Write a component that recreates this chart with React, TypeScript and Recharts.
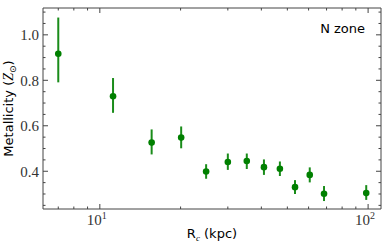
import React from 'react';
import { ScatterChart, Scatter, XAxis, YAxis, ErrorBar, Label } from 'recharts';

const radius = [7.0, 11.2, 15.6, 20.1, 24.9, 30.0, 35.3, 40.9, 46.9, 53.4, 60.6, 68.5, 98.4];
const metallicity = [0.917, 0.73, 0.526, 0.548, 0.399, 0.441, 0.445, 0.418, 0.411, 0.33, 0.384, 0.301, 0.304];
const errLow = [0.126, 0.073, 0.052, 0.047, 0.032, 0.035, 0.035, 0.034, 0.032, 0.03, 0.033, 0.032, 0.03];
const errHigh = [0.159, 0.08, 0.058, 0.049, 0.032, 0.037, 0.033, 0.034, 0.032, 0.031, 0.033, 0.034, 0.035];

const xMajorTicks = [10, 100];
const xTicks = [7, 8, 9, 10, 20, 30, 40, 50, 60, 70, 80, 90, 100];
const yMajorTicks = [0.4, 0.6, 0.8, 1.0];
const yTicks = [0.25, 0.3, 0.35, 0.4, 0.45, 0.5, 0.55, 0.6, 0.65, 0.7, 0.75, 0.8, 0.85, 0.9, 0.95, 1.0, 1.05, 1.1];
const xDomain = [6.14, 111.7];
const yDomain = [0.234, 1.118];
const zoneLabel = 'N zone';

const data = radius.map((r, i) => ({ r, z: metallicity[i], err: [errLow[i], errHigh[i]] }));

const AXIS = '#444';
const TICK_FONT = '"Liberation Serif", serif';
const SANS = '"DejaVu Sans", sans-serif';
const GREEN = '#008000';

const isMajor = (list: number[], v: number) => list.some((m) => Math.abs(m - v) < 1e-9);

const BottomTick = (props: any) => {
  const { x, y, payload } = props;
  const major = isMajor(xMajorTicks, payload.value);
  const len = major ? 5 : 2.5;
  return (
    <g>
      <line x1={x} x2={x} y1={y} y2={y - len} stroke={AXIS} strokeWidth={1} />
      {major && (
        <text x={x - 3} y={y + 16} textAnchor="middle" fontFamily={TICK_FONT} fontSize={15} fill="#333">
          10
          <tspan dy={-6} fontSize={10}>{Math.round(Math.log10(payload.value))}</tspan>
        </text>
      )}
    </g>
  );
};

const TopTick = (props: any) => {
  const { x, y, payload } = props;
  const major = isMajor(xMajorTicks, payload.value);
  const len = major ? 5 : 2.5;
  return <line x1={x} x2={x} y1={y} y2={y + len} stroke={AXIS} strokeWidth={1} />;
};

const LeftTick = (props: any) => {
  const { x, y, payload } = props;
  const major = isMajor(yMajorTicks, payload.value);
  const len = major ? 5 : 2.5;
  return (
    <g>
      <line x1={x} x2={x + len} y1={y} y2={y} stroke={AXIS} strokeWidth={1} />
      {major && (
        <text x={x - 4} y={y} dy="0.35em" textAnchor="end" fontFamily={TICK_FONT} fontSize={15} fill="#333">
          {payload.value.toFixed(1)}
        </text>
      )}
    </g>
  );
};

const RightTick = (props: any) => {
  const { x, y, payload } = props;
  const major = isMajor(yMajorTicks, payload.value);
  const len = major ? 5 : 2.5;
  return <line x1={x} x2={x - len} y1={y} y2={y} stroke={AXIS} strokeWidth={1} />;
};

const XTitle = (props: any) => {
  const vb = props.viewBox;
  return (
    <text x={vb.x + vb.width / 2} y={vb.y + 29} textAnchor="middle" fontFamily={SANS} fontSize={13} fill="#000">
      R<tspan dy={3} fontSize={9} fontFamily={TICK_FONT} fontStyle="italic">c</tspan>
      <tspan dy={-3}> (kpc)</tspan>
    </text>
  );
};

const YTitle = (props: any) => {
  const vb = props.viewBox;
  const cx = vb.x + 13;
  const cy = vb.y + vb.height / 2;
  return (
    <text x={cx} y={cy} textAnchor="middle" transform={`rotate(-90 ${cx} ${cy})`} fontFamily={SANS} fontSize={13} fill="#000">
      Metallicity (<tspan fontFamily={TICK_FONT} fontStyle="italic" fontSize={14}>Z</tspan>
      <tspan dy={3} fontSize={9}>⊙</tspan>
      <tspan dy={-3}>)</tspan>
    </text>
  );
};

const ZoneTitle = (props: any) => {
  const vb = props.viewBox;
  return (
    <text x={vb.x + vb.width - 16} y={vb.y + 26} textAnchor="end" fontFamily={SANS} fontSize={13} fill="#000">
      {zoneLabel}
    </text>
  );
};

const Dot = (props: any) => <circle cx={props.cx} cy={props.cy} r={3.3} fill={GREEN} />;
const NoDot = () => <g />;

export default function App() {
  return (
    <div style={{ position: 'absolute', left: 0, top: 0 }}>
      <ScatterChart width={390} height={244} margin={{ top: 7, right: 8, left: 0, bottom: 0 }}>
        <XAxis
          xAxisId="0"
          dataKey="r"
          type="number"
          scale="log"
          domain={xDomain}
          allowDataOverflow
          ticks={xTicks}
          interval={0}
          tickSize={0}
          tickMargin={0}
          tick={<BottomTick />}
          height={35}
          stroke={AXIS}
        >
          <Label content={<XTitle />} />
        </XAxis>
        <XAxis
          xAxisId="top"
          dataKey="r"
          orientation="top"
          type="number"
          scale="log"
          domain={xDomain}
          allowDataOverflow
          ticks={xTicks}
          interval={0}
          tickSize={0}
          tickMargin={0}
          tick={<TopTick />}
          height={1}
          stroke={AXIS}
        >
          <Label content={<ZoneTitle />} />
        </XAxis>
        <YAxis
          yAxisId="0"
          dataKey="z"
          type="number"
          domain={yDomain}
          allowDataOverflow
          ticks={yTicks}
          interval={0}
          tickSize={0}
          tickMargin={0}
          tick={<LeftTick />}
          width={43}
          stroke={AXIS}
        >
          <Label content={<YTitle />} />
        </YAxis>
        <YAxis
          yAxisId="right"
          dataKey="z"
          orientation="right"
          type="number"
          domain={yDomain}
          allowDataOverflow
          ticks={yTicks}
          interval={0}
          tickSize={0}
          tickMargin={0}
          tick={<RightTick />}
          width={1}
          stroke={AXIS}
        />
        <Scatter xAxisId="top" yAxisId="right" data={data} shape={<NoDot />} legendType="none" isAnimationActive={false} />
        <Scatter xAxisId="0" yAxisId="0" data={data} shape={<Dot />} isAnimationActive={false}>
          <ErrorBar dataKey="err" direction="y" width={0} stroke="#1a8c1a" strokeWidth={2} isAnimationActive={false} />
        </Scatter>
      </ScatterChart>
    </div>
  );
}
